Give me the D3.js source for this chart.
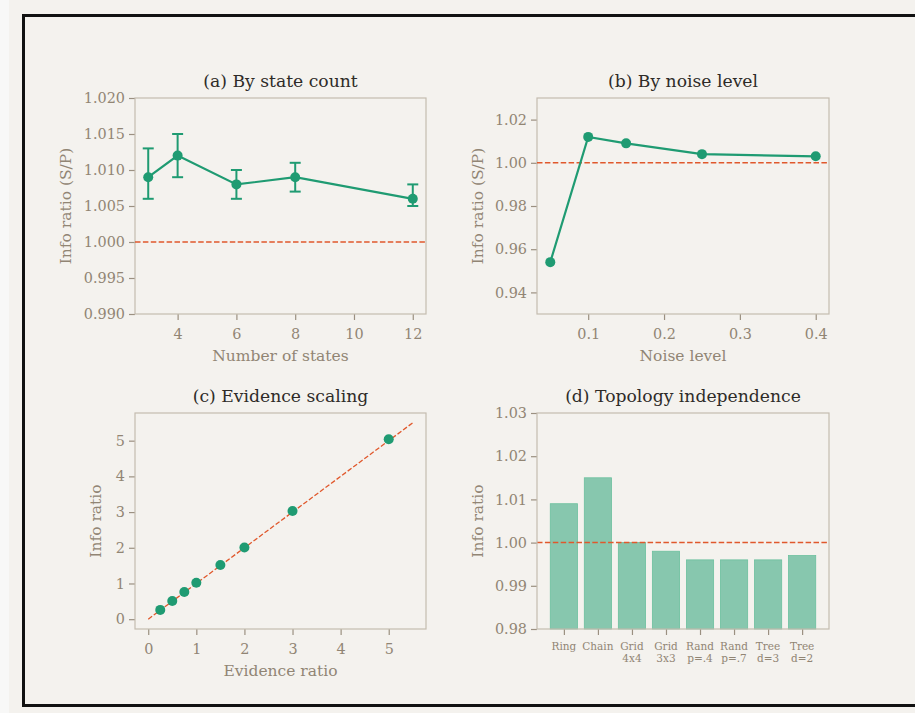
<!DOCTYPE html>
<html><head><meta charset="utf-8">
<script src="https://cdn.jsdelivr.net/npm/d3@7"></script>
<style>
html,body{margin:0;padding:0;background:#f4f2ee;}
body{width:915px;height:713px;overflow:hidden;position:relative;}
#strip{position:absolute;left:0;top:0;width:9px;height:713px;background:#f8f8f7;}
svg{position:absolute;left:0;top:0;}
</style></head><body>
<div id="strip"></div>
<svg id="chart" width="915" height="713"></svg>
<script>
// Panel (a)
const stateCounts = [3, 4, 6, 8, 12];
const stateRatio = [1.009, 1.012, 1.008, 1.009, 1.006];
const stateLo = [1.006, 1.009, 1.006, 1.007, 1.005];
const stateHi = [1.013, 1.015, 1.010, 1.011, 1.008];
const stateYTicks = [0.990, 0.995, 1.000, 1.005, 1.010, 1.015, 1.020];
const stateXTicks = [4, 6, 8, 10, 12];
// Panel (b)
const noiseLevels = [0.05, 0.10, 0.15, 0.25, 0.40];
const noiseRatio = [0.954, 1.012, 1.009, 1.004, 1.003];
const noiseYTicks = [0.94, 0.96, 0.98, 1.00, 1.02];
const noiseXTicks = [0.1, 0.2, 0.3, 0.4];
// Panel (c)
const evidenceRatio = [0.25, 0.5, 0.75, 1.0, 1.5, 2.0, 3.0, 5.0];
const evidenceInfo = [0.26, 0.51, 0.76, 1.02, 1.52, 2.01, 3.03, 5.04];
const evidenceTicks = [0, 1, 2, 3, 4, 5];
// Panel (d)
const topologies = [["Ring"], ["Chain"], ["Grid", "4x4"], ["Grid", "3x3"], ["Rand", "p=.4"], ["Rand", "p=.7"], ["Tree", "d=3"], ["Tree", "d=2"]];
const topologyRatio = [1.009, 1.015, 1.000, 0.998, 0.996, 0.996, 0.996, 0.997];
const topologyYTicks = [0.98, 0.99, 1.00, 1.01, 1.02, 1.03];

const GREEN = "#1f9b72", RED = "#e0582c", SPINE = "#c4bcb0", TICK = "#9b9081", TXT = "#918574", TITLE = "#2e2b28";
const FONT = "DejaVu Serif";
const svg = d3.select("#chart");

// Frame
svg.append("rect").attr("x", 23.5).attr("y", 15.5).attr("width", 1000).attr("height", 690)
  .attr("fill", "none").attr("stroke", "#111").attr("stroke-width", 3);

function panel(box, xs, ys, opts) {
  const g = svg.append("g");
  const [x0, y0, x1, y1] = box;
  g.append("text").attr("x", (x0 + x1) / 2).attr("y", y0 - 11).attr("text-anchor", "middle")
    .attr("font-family", FONT).attr("font-size", 17.2).attr("fill", TITLE).text(opts.title);
  const ya = d3.axisLeft(ys).tickValues(opts.yTicks).tickFormat(opts.yFmt).tickSize(6).tickPadding(4);
  const yg = g.append("g").attr("transform", `translate(${x0},0)`).call(ya);
  const xa = d3.axisBottom(xs).tickSize(6).tickPadding(9);
  if (opts.xTicks) xa.tickValues(opts.xTicks);
  if (opts.xFmt) xa.tickFormat(opts.xFmt);
  const xg = g.append("g").attr("transform", `translate(0,${y1})`).call(xa);
  [yg, xg].forEach(a => {
    a.select(".domain").remove();
    a.selectAll("line").attr("stroke", TICK).attr("stroke-width", 1.2);
    a.selectAll("text").attr("font-family", FONT).attr("font-size", 14.4).attr("fill", TXT);
  });
  g.append("rect").attr("x", x0).attr("y", y0).attr("width", x1 - x0).attr("height", y1 - y0)
    .attr("fill", "none").attr("stroke", SPINE).attr("stroke-width", 1.2);
  if (opts.xLabel) g.append("text").attr("x", (x0 + x1) / 2).attr("y", y1 + 47).attr("text-anchor", "middle")
    .attr("font-family", FONT).attr("font-size", 15.5).attr("fill", TXT).text(opts.xLabel);
  g.append("text").attr("transform", `translate(${opts.yLabelX},${(y0 + y1) / 2}) rotate(-90)`)
    .attr("text-anchor", "middle").attr("dominant-baseline", "central")
    .attr("font-family", FONT).attr("font-size", 15.5).attr("fill", TXT).text(opts.yLabel);
  return { g, xg };
}

// ---- Panel (a)
{
  const box = [135, 98, 426, 314];
  const xs = d3.scaleLinear().domain([2.55, 12.45]).range([box[0], box[2]]);
  const ys = d3.scaleLinear().domain([0.990, 1.020]).range([box[3], box[1]]);
  const { g } = panel(box, xs, ys, { title: "(a) By state count", yTicks: stateYTicks, yFmt: d3.format(".3f"),
    xTicks: stateXTicks, xFmt: d3.format("d"), xLabel: "Number of states", yLabel: "Info ratio (S/P)", yLabelX: 66 });
  g.append("line").attr("x1", box[0]).attr("x2", box[2]).attr("y1", ys(1)).attr("y2", ys(1))
    .attr("stroke", RED).attr("stroke-width", 1.5).attr("stroke-dasharray", "5.5,2.4");
  stateCounts.forEach((c, i) => {
    const x = xs(c);
    g.append("line").attr("x1", x).attr("x2", x).attr("y1", ys(stateLo[i])).attr("y2", ys(stateHi[i]))
      .attr("stroke", GREEN).attr("stroke-width", 2);
    [stateLo[i], stateHi[i]].forEach(v => g.append("line").attr("x1", x - 5.5).attr("x2", x + 5.5)
      .attr("y1", ys(v)).attr("y2", ys(v)).attr("stroke", GREEN).attr("stroke-width", 2));
  });
  g.append("path").datum(stateCounts.map((c, i) => [xs(c), ys(stateRatio[i])]))
    .attr("d", d3.line()).attr("fill", "none").attr("stroke", GREEN).attr("stroke-width", 2.2);
  g.selectAll("circle.p").data(stateCounts).enter().append("circle")
    .attr("cx", d => xs(d)).attr("cy", (d, i) => ys(stateRatio[i])).attr("r", 5).attr("fill", GREEN);
}

// ---- Panel (b)
{
  const box = [537, 98, 829, 314];
  const xs = d3.scaleLinear().domain([0.0325, 0.4175]).range([box[0], box[2]]);
  const ys = d3.scaleLinear().domain([0.93, 1.03]).range([box[3], box[1]]);
  const { g } = panel(box, xs, ys, { title: "(b) By noise level", yTicks: noiseYTicks, yFmt: d3.format(".2f"),
    xTicks: noiseXTicks, xFmt: d3.format(".1f"), xLabel: "Noise level", yLabel: "Info ratio (S/P)", yLabelX: 478 });
  g.append("line").attr("x1", box[0]).attr("x2", box[2]).attr("y1", ys(1)).attr("y2", ys(1))
    .attr("stroke", RED).attr("stroke-width", 1.5).attr("stroke-dasharray", "5.5,2.4");
  g.append("path").datum(noiseLevels.map((c, i) => [xs(c), ys(noiseRatio[i])]))
    .attr("d", d3.line()).attr("fill", "none").attr("stroke", GREEN).attr("stroke-width", 2.2);
  g.selectAll("circle.p").data(noiseLevels).enter().append("circle")
    .attr("cx", d => xs(d)).attr("cy", (d, i) => ys(noiseRatio[i])).attr("r", 5).attr("fill", GREEN);
}

// ---- Panel (c)
{
  const box = [135, 413, 426, 629];
  const xs = d3.scaleLinear().domain([-0.275, 5.775]).range([box[0], box[2]]);
  const ys = d3.scaleLinear().domain([-0.275, 5.775]).range([box[3], box[1]]);
  const { g } = panel(box, xs, ys, { title: "(c) Evidence scaling", yTicks: evidenceTicks, yFmt: d3.format("d"),
    xTicks: evidenceTicks, xFmt: d3.format("d"), xLabel: "Evidence ratio", yLabel: "Info ratio", yLabelX: 96 });
  g.append("line").attr("x1", xs(0)).attr("x2", xs(5.5)).attr("y1", ys(0)).attr("y2", ys(5.5))
    .attr("stroke", RED).attr("stroke-width", 1.3).attr("stroke-dasharray", "4.8,2.1");
  g.selectAll("circle.p").data(evidenceRatio).enter().append("circle")
    .attr("cx", d => xs(d)).attr("cy", (d, i) => ys(evidenceInfo[i])).attr("r", 5).attr("fill", GREEN);
}

// ---- Panel (d)
{
  const box = [537, 413, 829, 629];
  const idx = topologies.map((d, i) => i);
  const xs = d3.scaleLinear().domain([-0.79, 7.79]).range([box[0], box[2]]);
  const ys = d3.scaleLinear().domain([0.98, 1.03]).range([box[3], box[1]]);
  const g = svg.append("g");
  g.selectAll("rect.bar").data(idx).enter().append("rect")
    .attr("x", i => xs(i - 0.4)).attr("width", xs(0.4) - xs(-0.4))
    .attr("y", i => ys(topologyRatio[i])).attr("height", i => ys(0.98) - ys(topologyRatio[i]))
    .attr("fill", "#87c7ae").attr("stroke", "#6cc09e").attr("stroke-width", 0.8);
  panel(box, xs, ys, { title: "(d) Topology independence", yTicks: topologyYTicks, yFmt: d3.format(".2f"),
    xTicks: idx, xFmt: () => "", yLabel: "Info ratio", yLabelX: 478 });
  idx.forEach(i => {
    const t = g.append("text").attr("x", xs(i)).attr("y", box[3] + 21).attr("text-anchor", "middle")
      .attr("font-family", FONT).attr("font-size", 10.5).attr("fill", TXT);
    topologies[i].forEach((s, k) => t.append("tspan").attr("x", xs(i)).attr("dy", k === 0 ? 0 : 12).text(s));
  });
  g.append("line").attr("x1", box[0]).attr("x2", box[2]).attr("y1", ys(1)).attr("y2", ys(1))
    .attr("stroke", RED).attr("stroke-width", 1.5).attr("stroke-dasharray", "5.5,2.4");
}
</script>
</body></html>
